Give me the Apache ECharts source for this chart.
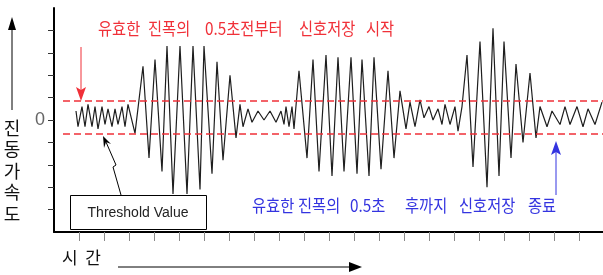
<!DOCTYPE html>
<html>
<head>
<meta charset="utf-8">
<script src="https://cdn.jsdelivr.net/npm/echarts@6/dist/echarts.min.js"></script>
<style>
  html, body { margin: 0; background: #fff; }
  #chart { width: 603px; height: 275px; }
</style>
</head>
<body>
<div id="chart"></div>
<script>
// time (ms) and vibration amplitude
const timeMs = [
  22, 24, 28, 31, 34, 38, 41, 44, 48, 51, 54, 58, 61, 64, 68, 71, 74, 81,
  89, 95, 101, 108, 113, 119, 126, 133, 139, 146, 150, 158, 163, 169, 176, 182,
  186, 189, 194, 198, 204, 210, 216, 222, 227, 230, 232, 235, 238, 240,
  245, 253, 259, 265, 272, 278, 284, 290, 297, 303, 308, 315, 320, 327, 334, 340, 346, 352,
  356, 361, 366, 370, 375, 379, 384, 388, 391, 396, 401, 404, 408,
  413, 419, 426, 433, 439, 445, 450, 457, 462, 469, 476, 482,
  486, 493, 498, 506, 511, 516, 523, 529, 534, 541, 548
]
const amplitude = [
  4, -3, 6, -3, 7, -3, 6, -4, 6, -2, 5, -3, 5, -2, 6, -3, 7, -6,
  24, -17, 27, -23, 33, -33, 33, -33, 33, -31, 33, -24, 26, -18, 20, -8,
  7, -3, 5, -1, 4, 0, 4, -1, 4, -2, 6, -3, 6, -4,
  22, -17, 27, -23, 29, -25, 28, -23, 28, -24, 27, -25, 28, -22, 22, -17, 13, -4,
  8, -3, 9, 1, 6, 0, 5, -2, 7, -2, 6, -5, 6,
  29, -21, 35, -30, 41, -25, 35, -17, 25, -10, 21, -8,
  6, -3, 4, -2, 6, -2, 6, -3, 5, -2, 8
]
const thresholds = [8.5, -6.3]
const thresholdStart = 9
const xTicks = [25, 50, 75, 100, 125, 150, 175, 200, 225, 250, 275, 300, 325, 350, 375, 400, 425, 450, 475, 500, 525]
const yTicks = [-40, -30, -20, -10, 0, 10, 20, 30, 40]
const yLabels = [0]

// note texts, split in words so they can follow the spacing of the picture
const startNote = ['유효한', '진폭의', '0.5초전부터', '신호저장', '시작']
const startNoteX = [98, 148, 205, 299, 366]
const endNote = ['유효한', '진폭의', '0.5초', '후까지', '신호저장', '종료']
const endNoteX = [252, 298, 350, 405, 459, 528]

const kr = '"Noto Sans CJK KR", sans-serif'
const red = '#f03038'
const blue = '#3434e0'

function words(list, xs, y, color) {
  return list.map((w, i) => ({
    type: 'text', x: xs[i], y: y, z: 100, scaleX: 0.9,
    style: { text: w, font: '17px ' + kr, fill: color, verticalAlign: 'middle' }
  }))
}

var myChart = echarts.init(document.getElementById('chart'))
myChart.setOption({
  animation: false,
  grid: { left: 54, right: 0, top: 8, bottom: 43, outerBoundsMode: 'none' },
  xAxis: {
    type: 'value',
    min: 0,
    max: 549,
    axisLine: { onZero: false, lineStyle: { color: '#000', width: 2 } },
    axisTick: { customValues: xTicks, length: 9, lineStyle: { color: '#8a8a8a', width: 1 } },
    axisLabel: { show: false },
    splitLine: { show: false }
  },
  yAxis: {
    type: 'value',
    min: -50,
    max: 50,
    axisLine: { show: true, onZero: false, lineStyle: { color: '#000', width: 2 } },
    axisTick: { show: true, customValues: yTicks, length: 6, lineStyle: { color: '#333', width: 1 } },
    axisLabel: { customValues: yLabels, margin: 9, fontSize: 18, color: '#666', fontFamily: 'Liberation Sans' },
    splitLine: { show: false }
  },
  series: [{
    type: 'line',
    data: timeMs.map((t, i) => [t, amplitude[i]]),
    showSymbol: false,
    lineStyle: { color: '#1e1e1e', width: 1.2 },
    z: 2,
    markLine: {
      silent: true,
      symbol: 'none',
      label: { show: false },
      lineStyle: { color: red, width: 1.5, type: [7, 4] },
      data: thresholds.map(v => [{ coord: [thresholdStart, v] }, { coord: [549, v] }])
    }
  }],
  graphic: [
    // y direction arrow + title
    { type: 'line', shape: { x1: 12, y1: 110, x2: 12, y2: 28 }, style: { stroke: '#000', lineWidth: 1 }, z: 100 },
    { type: 'polygon', shape: { points: [[12, 17], [8, 30], [16, 30]] }, style: { fill: '#000' }, z: 100 },
    { type: 'text', x: 12, y: 117, style: { text: '진\n동\n가\n속\n도', font: '18px ' + kr, fill: '#111', align: 'center', lineHeight: 21.5 }, z: 100 },
    // time arrow + title
    { type: 'text', x: 62, y: 258, style: { text: '시  간', font: '17px ' + kr, fill: '#111', verticalAlign: 'middle' }, z: 100 },
    { type: 'line', shape: { x1: 118, y1: 267, x2: 352, y2: 267 }, style: { stroke: '#000', lineWidth: 1 }, z: 100 },
    { type: 'polygon', shape: { points: [[362, 267], [349, 262], [349, 272]] }, style: { fill: '#000' }, z: 100 },
    // start annotation
    ...words(startNote, startNoteX, 29, red),
    { type: 'line', shape: { x1: 81, y1: 47, x2: 81, y2: 90 }, style: { stroke: red, lineWidth: 1 }, z: 100 },
    { type: 'polygon', shape: { points: [[81, 101], [76, 87], [81, 90], [86, 87]] }, style: { fill: red }, z: 100 },
    // end annotation
    ...words(endNote, endNoteX, 206, blue),
    { type: 'line', shape: { x1: 556, y1: 195, x2: 556, y2: 152 }, style: { stroke: blue, lineWidth: 1 }, z: 100 },
    { type: 'polygon', shape: { points: [[556, 141], [551, 155], [556, 152], [561, 155]] }, style: { fill: blue }, z: 100 },
    // threshold box
    { type: 'rect', shape: { x: 70.5, y: 195.5, width: 136, height: 34 }, style: { fill: '#fff', stroke: '#000', lineWidth: 1 }, z: 100 },
    { type: 'text', x: 138, y: 213, style: { text: 'Threshold Value', font: '14px "Liberation Sans", Arial', fill: '#222', align: 'center', verticalAlign: 'middle' }, z: 101 },
    { type: 'polyline', shape: { points: [[121, 195], [113, 167], [116, 165], [106, 142]] }, style: { stroke: '#000', lineWidth: 1, fill: null }, z: 100 },
    { type: 'polygon', shape: { points: [[103, 136], [111, 144], [106, 142], [104, 148]] }, style: { fill: '#000' }, z: 100 }
  ]
})
</script>
</body>
</html>
